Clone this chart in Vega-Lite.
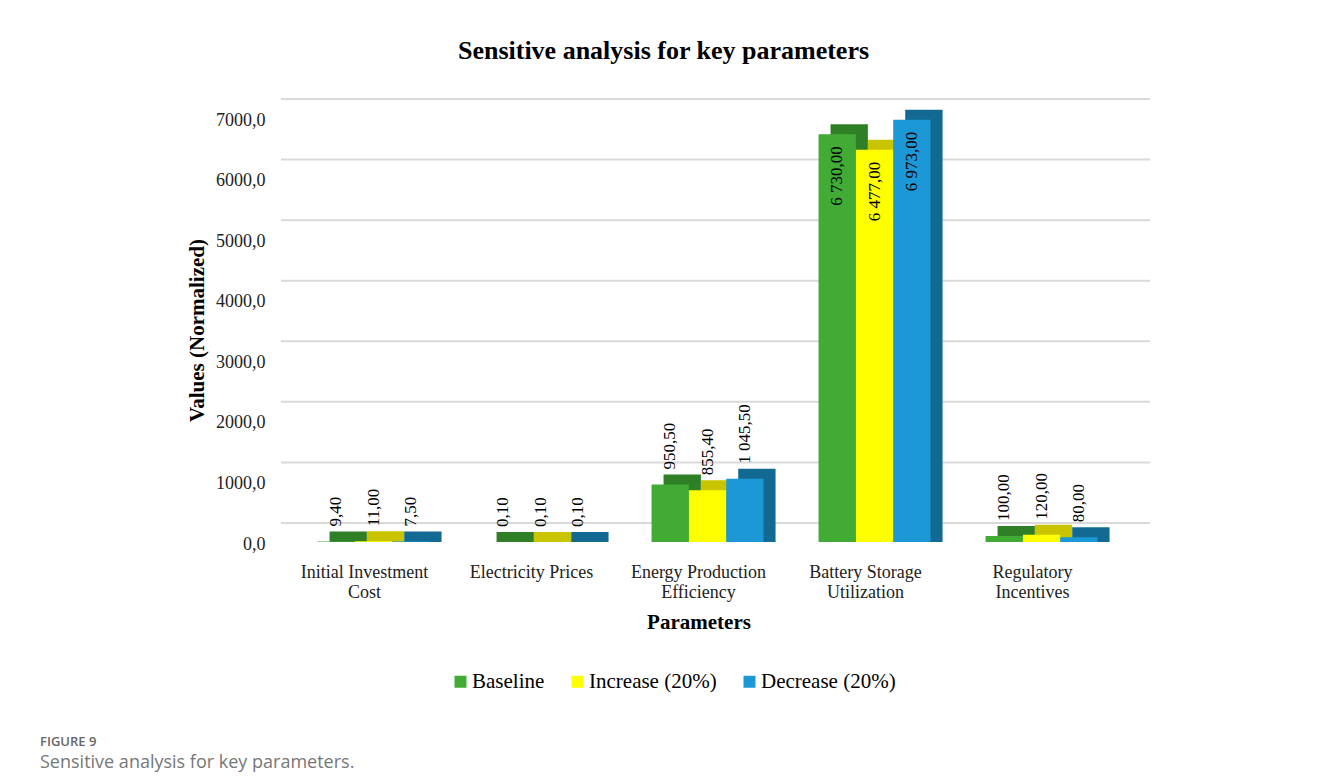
{
  "$schema": "https://vega.github.io/schema/vega-lite/v6.json",
  "background": "white",
  "padding": {"left": 40, "top": 38, "right": 0, "bottom": 0},
  "config": {
    "locale": {"number": {"decimal": ",", "thousands": " ", "grouping": [3], "currency": ["", ""]}},
    "view": {"stroke": null},
    "font": "Liberation Serif"
  },
  "title": {
    "text": "FIGURE 9",
    "subtitle": "Sensitive analysis for key parameters.",
    "orient": "bottom",
    "anchor": "start",
    "frame": "group",
    "dx": -241,
    "offset": 44,
    "font": "Open Sans",
    "fontSize": 13,
    "fontWeight": 600,
    "color": "#666666",
    "subtitleFont": "Open Sans",
    "subtitleFontSize": 18,
    "subtitleColor": "#777777",
    "subtitlePadding": 5
  },
  "datasets": {
    "bars": [
      {"param": "Initial Investment Cost", "series": "Baseline", "value": 9.4},
      {"param": "Initial Investment Cost", "series": "Increase (20%)", "value": 11.0},
      {"param": "Initial Investment Cost", "series": "Decrease (20%)", "value": 7.5},
      {"param": "Electricity Prices", "series": "Baseline", "value": 0.1},
      {"param": "Electricity Prices", "series": "Increase (20%)", "value": 0.1},
      {"param": "Electricity Prices", "series": "Decrease (20%)", "value": 0.1},
      {"param": "Energy Production Efficiency", "series": "Baseline", "value": 950.5},
      {"param": "Energy Production Efficiency", "series": "Increase (20%)", "value": 855.4},
      {"param": "Energy Production Efficiency", "series": "Decrease (20%)", "value": 1045.5},
      {"param": "Battery Storage Utilization", "series": "Baseline", "value": 6730},
      {"param": "Battery Storage Utilization", "series": "Increase (20%)", "value": 6477},
      {"param": "Battery Storage Utilization", "series": "Decrease (20%)", "value": 6973},
      {"param": "Regulatory Incentives", "series": "Baseline", "value": 100},
      {"param": "Regulatory Incentives", "series": "Increase (20%)", "value": 120},
      {"param": "Regulatory Incentives", "series": "Decrease (20%)", "value": 80}
    ],
    "grid": [
      {"value": 0}, {"value": 1000}, {"value": 2000}, {"value": 3000},
      {"value": 4000}, {"value": 5000}, {"value": 6000}, {"value": 7000}
    ]
  },
  "vconcat": [
    {
      "width": 869,
      "height": 424,
      "title": {
        "text": "Sensitive analysis for key parameters",
        "font": "Liberation Serif",
        "fontSize": 26,
        "fontWeight": "bold",
        "color": "black",
        "anchor": "middle",
        "dx": -52,
        "offset": 34
      },
      "resolve": {"scale": {"xOffset": "independent", "color": "independent"}},
      "layer": [
        {
          "data": {"name": "grid"},
          "mark": {"type": "rule", "color": "#D9D9D9", "strokeWidth": 2, "yOffset": -19},
          "encoding": {
            "y": {
              "field": "value", "type": "quantitative",
              "scale": {"domain": [0, 7000], "nice": false},
              "axis": {
                "title": "Values (Normalized)",
                "titleFont": "Liberation Serif",
                "titleFontSize": 21,
                "titleFontWeight": "bold",
                "titleColor": "black",
                "titlePadding": 8,
                "labelFont": "Liberation Serif",
                "labelFontSize": 18,
                "labelColor": "#222222",
                "labelPadding": 16,
                "labelOffset": 2,
                "format": ".1f",
                "values": [0, 1000, 2000, 3000, 4000, 5000, 6000, 7000],
                "domain": false,
                "ticks": false,
                "grid": false
              }
            }
          }
        },
        {
          "data": {"name": "bars"},
          "mark": {"type": "bar", "yOffset": -10, "y2Offset": 0},
          "encoding": {
            "x": {
              "field": "param", "type": "nominal", "sort": null,
              "scale": {
                "domain": ["Initial Investment Cost", "Electricity Prices", "Energy Production Efficiency", "Battery Storage Utilization", "Regulatory Incentives"],
                "range": [0, 835], "paddingInner": 0.33, "paddingOuter": 0.165
              },
              "axis": {
                "title": "Parameters",
                "titleFont": "Liberation Serif",
                "titleFontSize": 21,
                "titleFontWeight": "bold",
                "titleColor": "black",
                "titlePadding": 10,
                "labelFont": "Liberation Serif",
                "labelFontSize": 18,
                "labelColor": "#222222",
                "labelAngle": 0,
                "labelPadding": 21,
                "labelLineHeight": 20,
                "labelLimit": 0,
                "domain": false,
                "ticks": false,
                "grid": false,
                "labelExpr": "datum.value == 'Initial Investment Cost' ? ['Initial Investment', 'Cost'] : datum.value == 'Energy Production Efficiency' ? ['Energy Production', 'Efficiency'] : datum.value == 'Battery Storage Utilization' ? ['Battery Storage', 'Utilization'] : datum.value == 'Regulatory Incentives' ? ['Regulatory', 'Incentives'] : datum.value"
              }
            },
            "xOffset": {"field": "series", "type": "nominal", "sort": null,
              "scale": {"domain": ["Baseline", "Increase (20%)", "Decrease (20%)"], "range": [21, 133], "paddingInner": 0, "paddingOuter": 0}},
            "y": {"field": "value", "type": "quantitative"},
            "y2": {"datum": 0},
            "color": {"field": "series", "type": "nominal", "sort": null, "legend": null,
              "scale": {"domain": ["Baseline", "Increase (20%)", "Decrease (20%)"], "range": ["#2F7F26", "#C8C400", "#126A93"]}}
          }
        },
        {
          "data": {"name": "bars"},
          "mark": {"type": "bar"},
          "encoding": {
            "x": {"field": "param", "type": "nominal", "sort": null},
            "xOffset": {"field": "series", "type": "nominal", "sort": null,
              "scale": {"domain": ["Baseline", "Increase (20%)", "Decrease (20%)"], "range": [9, 121], "paddingInner": 0, "paddingOuter": 0}},
            "y": {"field": "value", "type": "quantitative"},
            "color": {
              "field": "series", "type": "nominal", "sort": null,
              "scale": {"domain": ["Baseline", "Increase (20%)", "Decrease (20%)"], "range": ["#41AB35", "#FFFF00", "#1B98D5"]},
              "legend": {
                "title": null,
                "orient": "none",
                "legendX": 169,
                "legendY": 553,
                "direction": "horizontal",
                "symbolType": "square",
                "symbolSize": 144,
                "symbolStrokeWidth": 0,
                "symbolOpacity": 1,
                "labelFont": "Liberation Serif",
                "labelFontSize": 21,
                "labelColor": "black",
                "labelOffset": 1,
                "columnPadding": 22,
                "labelLimit": 0
              }
            }
          }
        },
        {
          "data": {"name": "bars"},
          "transform": [{"filter": "datum.value < 3000"}],
          "mark": {"type": "text", "angle": 270, "align": "left", "baseline": "middle", "dx": 15, "font": "Liberation Serif", "fontSize": 17, "color": "black"},
          "encoding": {
            "x": {"field": "param", "type": "nominal", "sort": null},
            "xOffset": {"field": "series", "type": "nominal", "sort": null,
              "scale": {"domain": ["Baseline", "Increase (20%)", "Decrease (20%)"], "range": [27.7, 102.3], "paddingOuter": 0}},
            "y": {"field": "value", "type": "quantitative"},
            "text": {"field": "value", "type": "quantitative", "format": ",.2f"}
          }
        },
        {
          "data": {"name": "bars"},
          "transform": [{"filter": "datum.value >= 3000"}],
          "mark": {"type": "text", "angle": 270, "align": "right", "baseline": "middle", "dx": -12, "font": "Liberation Serif", "fontSize": 17, "color": "black"},
          "encoding": {
            "x": {"field": "param", "type": "nominal", "sort": null},
            "xOffset": {"field": "series", "type": "nominal", "sort": null,
              "scale": {"domain": ["Baseline", "Increase (20%)", "Decrease (20%)"], "range": [27.7, 102.3], "paddingOuter": 0}},
            "y": {"field": "value", "type": "quantitative"},
            "text": {"field": "value", "type": "quantitative", "format": ",.2f"}
          }
        }
      ]
    }
  ]
}
